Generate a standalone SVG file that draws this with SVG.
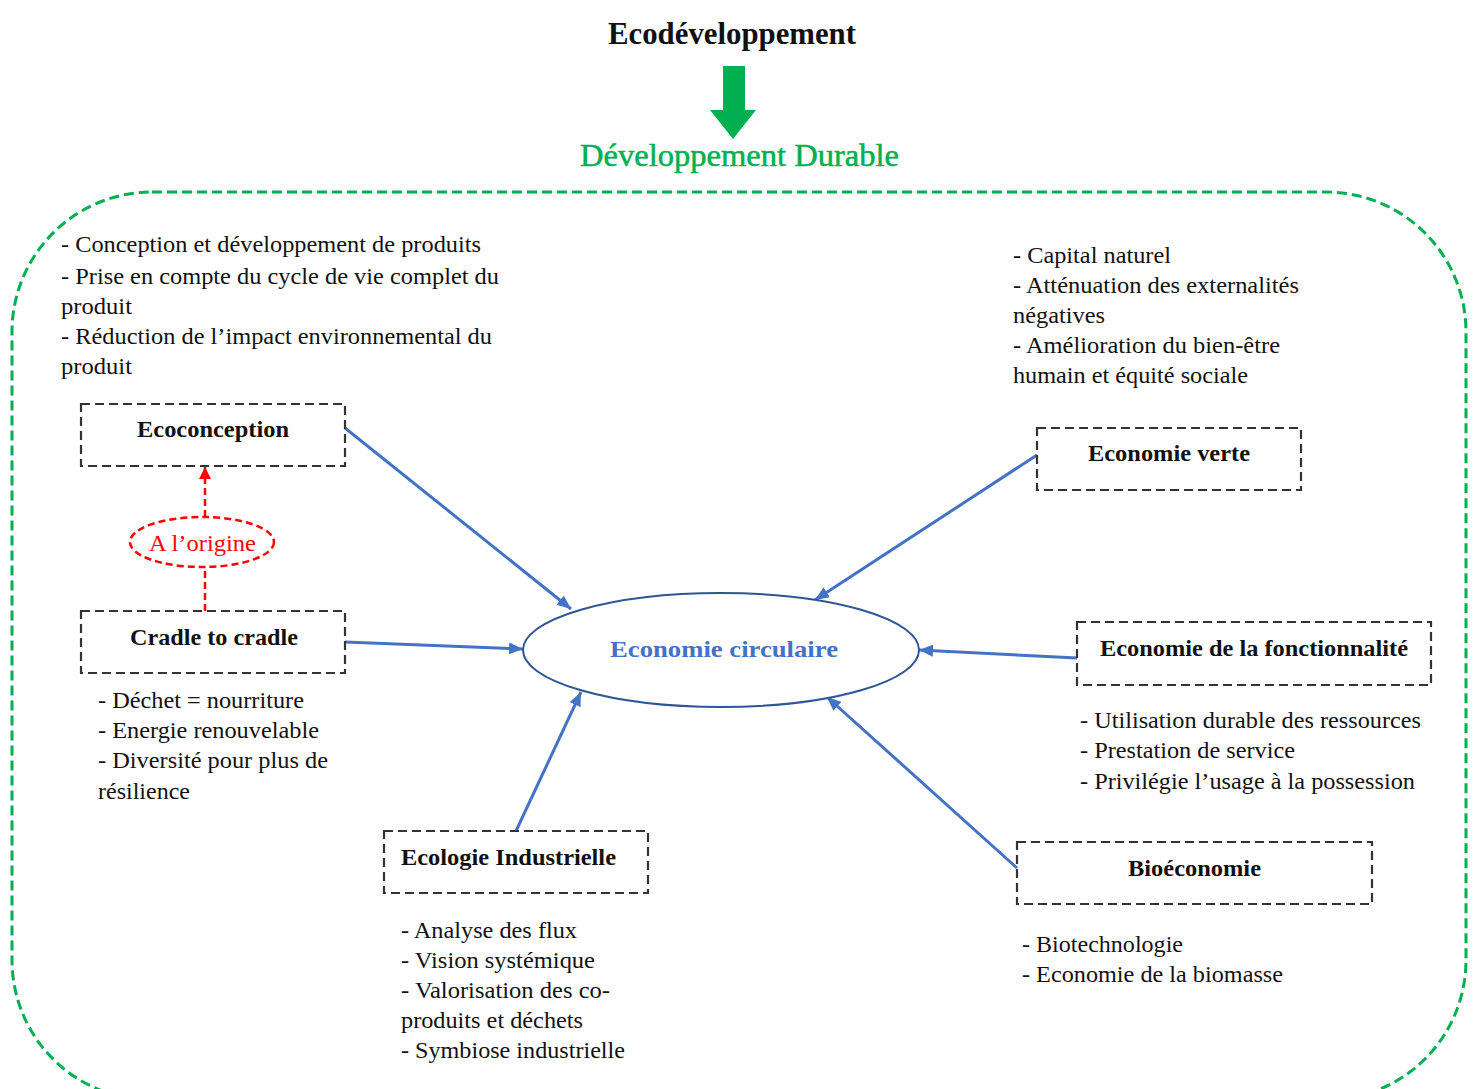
<svg xmlns="http://www.w3.org/2000/svg" width="1475" height="1089" viewBox="0 0 1475 1089">
<style>
  .t { font-family: "Liberation Serif", "Times New Roman", serif; font-size: 23px; fill: #111; }
  .lbl { font-family: "Liberation Serif", "Times New Roman", serif; font-size: 24px; font-weight: bold; fill: #111; }
  .box { fill: none; stroke: #333; stroke-width: 2.2; stroke-dasharray: 9 5; }
  .conn { stroke: #4472C4; stroke-width: 3; fill: none; marker-end: url(#ab); }
  .red { stroke: #FF0000; stroke-width: 2.5; stroke-dasharray: 7 4; fill: none; }
</style>
<defs>
  <marker id="ab" markerUnits="userSpaceOnUse" markerWidth="14" markerHeight="12" refX="14" refY="6" orient="auto">
    <path d="M0,0 L14,6 L0,12 z" fill="#4472C4"/>
  </marker>
  <marker id="ar" markerUnits="userSpaceOnUse" markerWidth="12" markerHeight="12" refX="12" refY="6" orient="auto">
    <path d="M0,0 L12,6 L0,12 z" fill="#FF0000"/>
  </marker>
</defs>
<rect width="1475" height="1089" fill="#fff"/>

<g id="title">
  <text x="608" y="44" class="t" style="font-size:31px;font-weight:bold" textLength="248" lengthAdjust="spacingAndGlyphs">Ecodéveloppement</text>
  <polygon points="723,66 745,66 745,110 756,110 733,139 710,110 723,110" fill="#00B050"/>
  <text x="580" y="166" class="t" style="font-size:31px;fill:#00B050;stroke:#00B050;stroke-width:0.5" textLength="319" lengthAdjust="spacingAndGlyphs">Développement Durable</text>
</g>

<g id="frame">
  <rect x="12" y="192" width="1454" height="908" rx="140" ry="140" fill="none" stroke="#00B050" stroke-width="3" stroke-dasharray="10 5"/>
</g>

<g id="connectors">
  <line class="conn" x1="345" y1="428" x2="571" y2="609"/>
  <line class="conn" x1="345" y1="642" x2="523" y2="649"/>
  <line class="conn" x1="516" y1="831" x2="581" y2="692"/>
  <line class="conn" x1="1037" y1="455" x2="815" y2="600"/>
  <line class="conn" x1="1077" y1="658" x2="919" y2="650"/>
  <line class="conn" x1="1017" y1="868" x2="827" y2="697"/>
  <line class="red" x1="205" y1="611" x2="205" y2="567"/>
  <line class="red" x1="205" y1="517" x2="205" y2="467" marker-end="url(#ar)"/>
</g>

<g id="origine">
  <ellipse cx="202" cy="542" rx="72" ry="25" class="red"/>
  <text x="149" y="551" class="t" style="fill:#FF0000" textLength="107" lengthAdjust="spacingAndGlyphs">A l’origine</text>
</g>

<g id="center">
  <ellipse cx="721" cy="650" rx="198" ry="57" fill="#fff" stroke="#2F5597" stroke-width="2"/>
  <text x="610" y="657" class="lbl" style="fill:#4472C4" textLength="228" lengthAdjust="spacingAndGlyphs">Economie circulaire</text>
</g>

<g id="ecoconception">
  <rect x="81" y="404" width="264" height="62" class="box"/>
  <text x="137" y="437" class="lbl" textLength="152" lengthAdjust="spacingAndGlyphs">Ecoconception</text>
  <text class="t" x="61" y="252" textLength="420" lengthAdjust="spacingAndGlyphs">- Conception et développement de produits</text>
  <text class="t" x="61" y="284" textLength="438" lengthAdjust="spacingAndGlyphs">- Prise en compte du cycle de vie complet du</text>
  <text class="t" x="61" y="314" textLength="71" lengthAdjust="spacingAndGlyphs">produit</text>
  <text class="t" x="61" y="344" textLength="431" lengthAdjust="spacingAndGlyphs">- Réduction de l’impact environnemental du</text>
  <text class="t" x="61" y="374" textLength="71" lengthAdjust="spacingAndGlyphs">produit</text>
</g>

<g id="cradle">
  <rect x="81" y="611" width="264" height="62" class="box"/>
  <text x="130" y="645" class="lbl" textLength="168" lengthAdjust="spacingAndGlyphs">Cradle to cradle</text>
  <text class="t" x="98" y="708" textLength="206" lengthAdjust="spacingAndGlyphs">- Déchet = nourriture</text>
  <text class="t" x="98" y="738" textLength="221" lengthAdjust="spacingAndGlyphs">- Energie renouvelable</text>
  <text class="t" x="98" y="768" textLength="230" lengthAdjust="spacingAndGlyphs">- Diversité pour plus de</text>
  <text class="t" x="98" y="799" textLength="92" lengthAdjust="spacingAndGlyphs">résilience</text>
</g>

<g id="ecologie">
  <rect x="384" y="831" width="264" height="62" class="box"/>
  <text x="401" y="865" class="lbl" textLength="215" lengthAdjust="spacingAndGlyphs">Ecologie Industrielle</text>
  <text class="t" x="401" y="938" textLength="176" lengthAdjust="spacingAndGlyphs">- Analyse des flux</text>
  <text class="t" x="401" y="968" textLength="194" lengthAdjust="spacingAndGlyphs">- Vision systémique</text>
  <text class="t" x="401" y="998" textLength="209" lengthAdjust="spacingAndGlyphs">- Valorisation des co-</text>
  <text class="t" x="401" y="1028" textLength="182" lengthAdjust="spacingAndGlyphs">produits et déchets</text>
  <text class="t" x="401" y="1058" textLength="224" lengthAdjust="spacingAndGlyphs">- Symbiose industrielle</text>
</g>

<g id="verte">
  <rect x="1037" y="428" width="264" height="62" class="box"/>
  <text x="1088" y="461" class="lbl" textLength="162" lengthAdjust="spacingAndGlyphs">Economie verte</text>
  <text class="t" x="1013" y="263" textLength="158" lengthAdjust="spacingAndGlyphs">- Capital naturel</text>
  <text class="t" x="1013" y="293" textLength="286" lengthAdjust="spacingAndGlyphs">- Atténuation des externalités</text>
  <text class="t" x="1013" y="323" textLength="92" lengthAdjust="spacingAndGlyphs">négatives</text>
  <text class="t" x="1013" y="353" textLength="267" lengthAdjust="spacingAndGlyphs">- Amélioration du bien-être</text>
  <text class="t" x="1013" y="383" textLength="235" lengthAdjust="spacingAndGlyphs">humain et équité sociale</text>
</g>

<g id="fonctionnalite">
  <rect x="1077" y="622" width="354" height="63" class="box"/>
  <text x="1100" y="656" class="lbl" textLength="308" lengthAdjust="spacingAndGlyphs">Economie de la fonctionnalité</text>
  <text class="t" x="1080" y="728" textLength="341" lengthAdjust="spacingAndGlyphs">- Utilisation durable des ressources</text>
  <text class="t" x="1080" y="758" textLength="215" lengthAdjust="spacingAndGlyphs">- Prestation de service</text>
  <text class="t" x="1080" y="789" textLength="335" lengthAdjust="spacingAndGlyphs">- Privilégie l’usage à la possession</text>
</g>

<g id="bioeconomie">
  <rect x="1017" y="842" width="355" height="62" class="box"/>
  <text x="1128" y="876" class="lbl" textLength="133" lengthAdjust="spacingAndGlyphs">Bioéconomie</text>
  <text class="t" x="1022" y="952" textLength="161" lengthAdjust="spacingAndGlyphs">- Biotechnologie</text>
  <text class="t" x="1022" y="982" textLength="261" lengthAdjust="spacingAndGlyphs">- Economie de la biomasse</text>
</g>
</svg>
